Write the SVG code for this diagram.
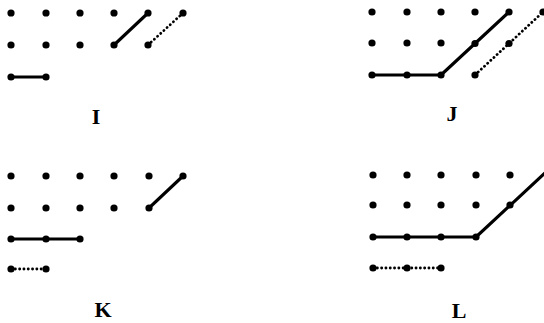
<svg xmlns="http://www.w3.org/2000/svg" width="544" height="323" viewBox="0 0 544 323">
<style>
.d circle{fill:#000;r:3.6px}
.s{stroke:#000;stroke-width:3.1;fill:none;stroke-linejoin:round}
.t{stroke:#000;stroke-width:2.8;fill:none;stroke-linecap:round;stroke-dasharray:0.1 4.2}
.l{font-family:"Liberation Serif",serif;font-weight:bold;font-size:22px;text-anchor:middle;fill:#000}
</style>
<rect width="544" height="323" fill="#fff"/>
<g id="connectors">
<path class="s" d="M114,45 L148,13"/>
<path class="t" d="M148,45 L183,13"/>
<path class="s" d="M11,77 L46,77"/>
<path class="s" d="M372,75 L441,75 L509,12"/>
<path class="t" d="M475,75 L543,12"/>
<path class="s" d="M149,208 L183,176"/>
<path class="s" d="M11,239 L80,239"/>
<path class="t" d="M11,269 L46,269"/>
<path class="s" d="M373,237 L476,237 L545,173"/>
<path class="t" d="M373,268 L441,268"/>
</g>
<g id="panel-I">
<g class="d">
<circle cx="11" cy="13" r="3.6"/><circle cx="46" cy="13" r="3.6"/><circle cx="80" cy="13" r="3.6"/><circle cx="114" cy="13" r="3.6"/><circle cx="148" cy="13" r="3.6"/><circle cx="183" cy="13" r="3.6"/>
<circle cx="11" cy="45" r="3.6"/><circle cx="46" cy="45" r="3.6"/><circle cx="80" cy="45" r="3.6"/><circle cx="114" cy="45" r="3.6"/><circle cx="148" cy="45" r="3.6"/>
<circle cx="11" cy="77" r="3.6"/><circle cx="46" cy="77" r="3.6"/>
</g>
<text class="l" x="96" y="124">I</text>
</g>
<g id="panel-J">
<g class="d">
<circle cx="372" cy="12" r="3.6"/><circle cx="407" cy="12" r="3.6"/><circle cx="441" cy="12" r="3.6"/><circle cx="475" cy="12" r="3.6"/><circle cx="509" cy="12" r="3.6"/><circle cx="543" cy="12" r="3.6"/>
<circle cx="372" cy="43" r="3.6"/><circle cx="407" cy="43" r="3.6"/><circle cx="441" cy="43" r="3.6"/><circle cx="475" cy="43.5" r="3.6"/><circle cx="509" cy="43.5" r="3.6"/>
<circle cx="372" cy="75" r="3.6"/><circle cx="407" cy="75" r="3.6"/><circle cx="441" cy="75" r="3.6"/><circle cx="475" cy="75" r="3.6"/>
</g>
<text class="l" x="452" y="121">J</text>
</g>
<g id="panel-K">
<g class="d">
<circle cx="11" cy="176" r="3.6"/><circle cx="46" cy="176" r="3.6"/><circle cx="80" cy="176" r="3.6"/><circle cx="114" cy="176" r="3.6"/><circle cx="149" cy="176" r="3.6"/><circle cx="183" cy="176" r="3.6"/>
<circle cx="11" cy="208" r="3.6"/><circle cx="46" cy="208" r="3.6"/><circle cx="80" cy="208" r="3.6"/><circle cx="114" cy="208" r="3.6"/><circle cx="149" cy="208" r="3.6"/>
<circle cx="11" cy="239" r="3.6"/><circle cx="46" cy="239" r="3.6"/><circle cx="80" cy="239" r="3.6"/>
<circle cx="11" cy="269" r="3.6"/><circle cx="46" cy="269" r="3.6"/>
</g>
<text class="l" x="103" y="317">K</text>
</g>
<g id="panel-L">
<g class="d">
<circle cx="373" cy="175" r="3.6"/><circle cx="407" cy="175" r="3.6"/><circle cx="441" cy="175" r="3.6"/><circle cx="476" cy="175" r="3.6"/><circle cx="510" cy="175" r="3.6"/>
<circle cx="373" cy="205" r="3.6"/><circle cx="407" cy="205" r="3.6"/><circle cx="441" cy="205" r="3.6"/><circle cx="476" cy="205" r="3.6"/><circle cx="510" cy="205" r="3.6"/>
<circle cx="373" cy="237" r="3.6"/><circle cx="407" cy="237" r="3.6"/><circle cx="441" cy="237" r="3.6"/><circle cx="476" cy="237" r="3.6"/>
<circle cx="373" cy="268" r="3.6"/><circle cx="407" cy="268" r="3.6"/><circle cx="441" cy="268" r="3.6"/>
</g>
<text class="l" x="459" y="318">L</text>
</g>
</svg>
